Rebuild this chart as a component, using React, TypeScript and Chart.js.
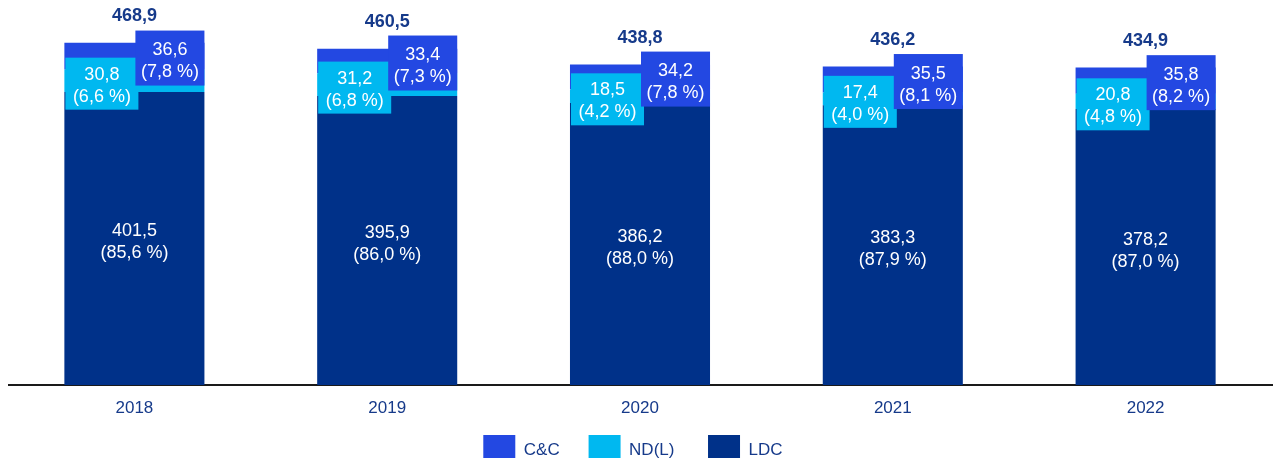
import React, { useEffect, useRef } from 'react';
import { Chart, registerables } from 'chart.js';

Chart.register(...registerables);

const categories = ['2018', '2019', '2020', '2021', '2022'];
const ldcValues = [401.5, 395.9, 386.2, 383.3, 378.2];
const ndlValues = [30.8, 31.2, 18.5, 17.4, 20.8];
const ccValues = [36.6, 33.4, 34.2, 35.5, 35.8];
const totalLabels = [468.9, 460.5, 438.8, 436.2, 434.9];
const ldcShares = [85.6, 86.0, 88.0, 87.9, 87.0];
const ndlShares = [6.6, 6.8, 4.2, 4.0, 4.8];
const ccShares = [7.8, 7.3, 7.8, 8.1, 8.2];

const COLOR_CC = '#2348E2';
const COLOR_NDL = '#00B8F0';
const COLOR_LDC = '#003189';
const TEXT_BLUE = '#163a8a';
const FONT = "'Liberation Sans', Arial, sans-serif";

const fmt = (v: number) => v.toFixed(1).replace('.', ',');

const labelPlugin = {
  id: 'segmentLabels',
  afterDatasetsDraw(chart: any) {
    const ctx = chart.ctx;
    const mLdc = chart.getDatasetMeta(0);
    const mNdl = chart.getDatasetMeta(1);
    const mCc = chart.getDatasetMeta(2);
    ctx.save();
    ctx.textAlign = 'center';
    ctx.textBaseline = 'middle';
    const lineH = 22;
    for (let i = 0; i < categories.length; i++) {
      const b0 = mLdc.data[i].getProps(['x', 'y', 'base', 'width'], true);
      const b1 = mNdl.data[i].getProps(['x', 'y', 'base', 'width'], true);
      const b2 = mCc.data[i].getProps(['x', 'y', 'base', 'width'], true);
      const half = b0.width / 2;

      // LDC label
      ctx.fillStyle = '#ffffff';
      ctx.font = `18px ${FONT}`;
      const cy0 = (b0.y + b0.base) / 2 + 4;
      ctx.fillText(fmt(ldcValues[i]), b0.x, cy0 - lineH / 2);
      ctx.fillText(`(${fmt(ldcShares[i])} %)`, b0.x, cy0 + lineH / 2);

      // ND(L) box
      const cy1 = (b1.y + b1.base) / 2 + 3;
      const l1 = b1.x - half + 1;
      const r1 = b1.x + 4;
      const h1 = 52;
      ctx.fillStyle = COLOR_NDL;
      ctx.fillRect(l1, cy1 - h1 / 2, r1 - l1, h1);
      ctx.fillStyle = '#ffffff';
      const tx1 = (l1 + r1) / 2;
      ctx.fillText(fmt(ndlValues[i]), tx1, cy1 + 2 - lineH / 2);
      ctx.fillText(`(${fmt(ndlShares[i])} %)`, tx1, cy1 + 2 + lineH / 2);

      // C&C box
      const cy2 = (b2.y + b2.base) / 2 + 2;
      const l2 = b2.x + 1;
      const r2 = b2.x + half;
      const h2 = 55;
      ctx.fillStyle = COLOR_CC;
      ctx.fillRect(l2, cy2 - h2 / 2, r2 - l2, h2);
      ctx.fillStyle = '#ffffff';
      const tx2 = (l2 + r2) / 2;
      ctx.fillText(fmt(ccValues[i]), tx2, cy2 + 3 - lineH / 2);
      ctx.fillText(`(${fmt(ccShares[i])} %)`, tx2, cy2 + 3 + lineH / 2);

      // total
      ctx.fillStyle = TEXT_BLUE;
      ctx.font = `bold 18px ${FONT}`;
      ctx.fillText(fmt(totalLabels[i]), b2.x, b2.y - 27);
    }
    ctx.restore();
  },
};

const legendSpacers: Record<string, string> = { 'C&C': '    ', 'ND(L)': '     ', LDC: '   ' };

export default function App() {
  const ref = useRef<HTMLCanvasElement | null>(null);
  useEffect(() => {
    document.body.style.overflow = 'hidden';
    document.documentElement.style.overflow = 'hidden';
    if (!ref.current) return;
    Chart.defaults.font.family = FONT;
    const common = { barPercentage: 0.554, categoryPercentage: 1.0, borderWidth: 0 };
    const chart = new Chart(ref.current, {
      type: 'bar',
      data: {
        labels: categories,
        datasets: [
          { label: 'LDC', data: ldcValues, backgroundColor: COLOR_LDC, ...common },
          { label: 'ND(L)', data: ndlValues, backgroundColor: COLOR_NDL, ...common },
          { label: 'C&C', data: ccValues, backgroundColor: COLOR_CC, ...common },
        ],
      },
      options: {
        animation: false,
        responsive: true,
        maintainAspectRatio: false,
        layout: { padding: { top: 20, right: 4, left: 0, bottom: 0 } },
        scales: {
          x: {
            stacked: true,
            grid: { display: false, drawTicks: false },
            border: { display: true, color: '#1a1a1a', width: 2 },
            ticks: { color: TEXT_BLUE, font: { size: 17 }, padding: 13 },
            afterFit: (s: any) => {
              s.height = 40;
            },
          },
          y: { stacked: true, display: false, min: 0, max: 500 },
        },
        plugins: {
          legend: {
            position: 'bottom',
            reverse: true,
            labels: {
              boxWidth: 32,
              boxHeight: 30,
              padding: 10,
              color: TEXT_BLUE,
              font: { size: 17 },
              generateLabels: (c: any) => {
                const items = Chart.defaults.plugins.legend.labels.generateLabels(c);
                return items.map((it: any) => ({ ...it, text: it.text + (legendSpacers[it.text] || '') }));
              },
            },
          },
          tooltip: { enabled: false },
        },
      },
      plugins: [labelPlugin],
    });
    return () => chart.destroy();
  }, []);
  return (
    <div style={{ position: 'absolute', left: 8, top: 0, width: 1268, height: 475 }}>
      <canvas ref={ref} />
    </div>
  );
}
